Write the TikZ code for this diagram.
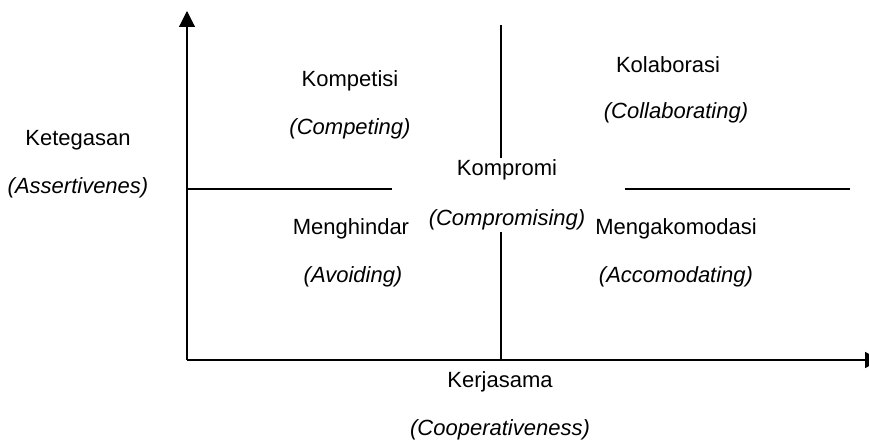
\documentclass[tikz,border=0pt]{standalone}
\usepackage{fontspec}
\setmainfont{Liberation Sans}
\usetikzlibrary{arrows.meta}
\begin{document}
\begin{tikzpicture}[x=1pt, y=-1pt, line width=1.1pt,
  label/.style={font=\fontsize{22}{26}\selectfont, inner sep=1pt},
  sub/.style={label, font=\fontsize{22}{26}\selectfont\itshape}]

\useasboundingbox (0,0) rectangle (869,441);

% axes
\coordinate (o) at (187,360);
\draw[-{Triangle[width=16pt,length=16pt]}] (o) -- (187,11);
\draw[-{Triangle[width=16pt,length=16pt]}] (o) -- (881,360);

% quadrant labels
\node[label] (keteg) at (78,140) {Ketegasan};
\node[sub] (assert) at (78,188) {(Assertivenes)};
\node[label] (kompet) at (350,81) {Kompetisi};
\node[sub] (competing) at (350,129) {(Competing)};
\node[label] (kolab) at (668,65) {Kolaborasi};
\node[sub] (collab) at (676,113) {(Collaborating)};
\node[label] (kompro) at (507,170) {Kompromi};
\node[sub] (compro) at (507,220) {(Compromising)};
\node[label] (menghin) at (351,229) {Menghindar};
\node[sub] (avoid) at (353,277) {(Avoiding)};
\node[label] (mengako) at (676,229) {Mengakomodasi};
\node[sub] (accom) at (676,277) {(Accomodating)};
\node[label] (kerja) at (500,382) {Kerjasama};
\node[sub] (coop) at (500,430) {(Cooperativeness)};

% dividing lines
\coordinate (vtop) at (501,25);
\coordinate (vbot) at (501,360);
\draw (vtop) -- (vtop |- kompro.north);
\draw (vbot |- compro.south) -- (vbot);
\draw (187,189) -- (392,189);
\draw (625,189) -- (850,189);

\end{tikzpicture}
\end{document}
